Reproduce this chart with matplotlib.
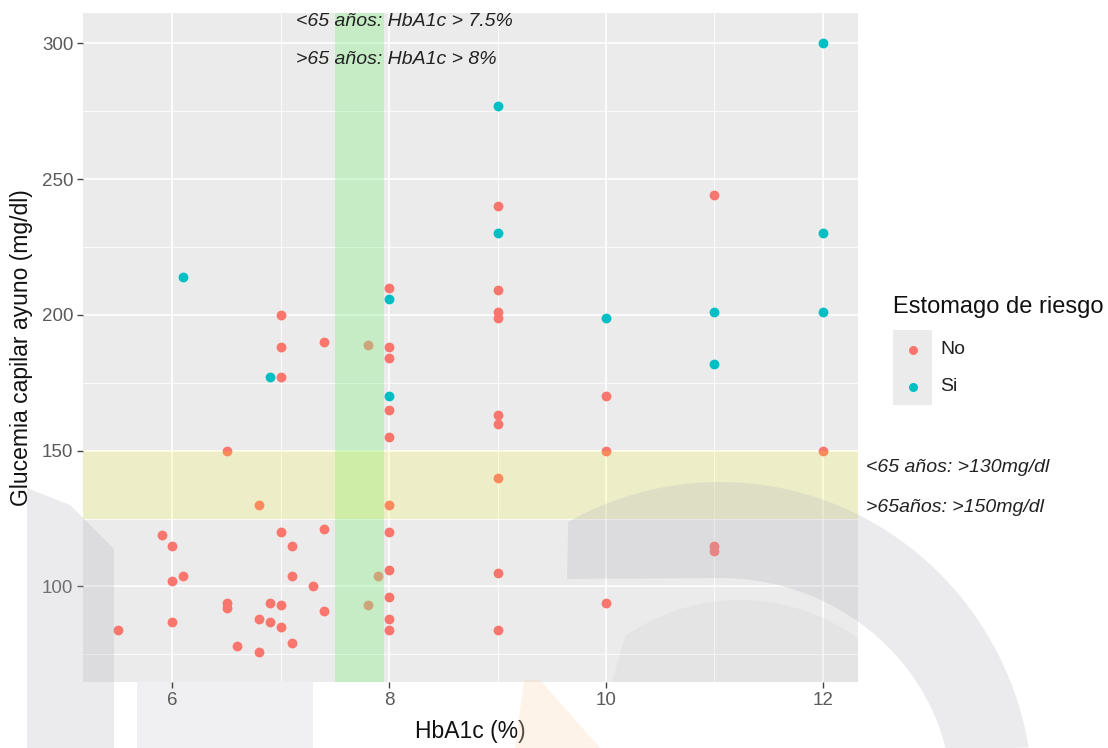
## plot.py
# Scatter of fasting capillary glucose vs HbA1c, coloured by "Estomago de riesgo",
# with the target bands for HbA1c (green) and glucose (yellow) in ggplot style

import numpy as np
import matplotlib.pyplot as plt
from matplotlib.patches import Polygon, Rectangle

## Data
# Group "No"
noHba1c = [5.5, 5.9, 6.0, 6.0, 6.0, 6.1, 6.5, 6.5, 6.5, 6.6,
           6.8, 6.8, 6.8, 6.9, 6.9, 7.0, 7.0, 7.0, 7.0, 7.0, 7.0,
           7.1, 7.1, 7.1, 7.3, 7.4, 7.4, 7.4, 7.8, 7.8, 7.9,
           8.0, 8.0, 8.0, 8.0, 8.0, 8.0, 8.0, 8.0, 8.0, 8.0, 8.0,
           9.0, 9.0, 9.0, 9.0, 9.0, 9.0, 9.0, 9.0, 9.0,
           10.0, 10.0, 10.0, 11.0, 11.0, 11.0, 12.0]
noGlucose = [84, 119, 115, 102, 87, 104, 150, 94, 92, 78,
             130, 88, 76, 94, 87, 200, 188, 177, 120, 93, 85,
             115, 104, 79, 100, 190, 121, 91, 189, 93, 104,
             210, 188, 184, 165, 155, 130, 120, 106, 96, 88, 84,
             240, 209, 201, 199, 163, 160, 140, 105, 84,
             170, 150, 94, 244, 115, 113, 150]

# Group "Si"
siHba1c = [6.1, 6.9, 8.0, 8.0, 9.0, 9.0, 10.0, 11.0, 11.0, 12.0, 12.0, 12.0]
siGlucose = [214, 177, 206, 170, 277, 230, 199, 201, 182, 300, 230, 201]

groupLabels = ["No", "Si"]
groupColors = ["#F8766D", "#00BFC4"]

# Target bands
hbBand = (7.5, 7.95)
gluBand = (125, 150)

xTicks = [6, 8, 10, 12]
yTicks = [100, 150, 200, 250, 300]

## Figure set-up
W, H = 1108, 748
plt.rcParams['font.family'] = ['Liberation Sans', 'DejaVu Sans']

def fx(px):
    return px / W

def fy(py):
    return 1 - py / H

fig = plt.figure(figsize=(W / 100, H / 100), dpi=100)
ax = fig.add_axes([fx(83), fy(682), fx(858) - fx(83), fy(13) - fy(682)])
ax.set_facecolor("#EBEBEB")

# Scales like ggplot (5% expansion)
xMin, xMax = min(noHba1c + siHba1c), max(noHba1c + siHba1c)
yMin, yMax = min(noGlucose + siGlucose), max(noGlucose + siGlucose)
xPad = 0.05 * (xMax - xMin)
yPad = 0.05 * (yMax - yMin)
ax.set_xlim(xMin - xPad, xMax + xPad)
ax.set_ylim(yMin - yPad, yMax + yPad)

# Grid: major and minor lines in white
ax.set_xticks(xTicks)
ax.set_yticks(yTicks)
ax.set_xticks([7, 9, 11], minor=True)
ax.set_yticks([75, 125, 175, 225, 275], minor=True)
ax.grid(which="major", color="white", linewidth=1.2, zorder=0)
ax.grid(which="minor", color="white", linewidth=0.6, zorder=0)
ax.set_axisbelow(True)
for s in ax.spines.values():
    s.set_visible(False)
ax.tick_params(which="major", length=4, width=1, color="#444444",
               labelsize=13.5, labelcolor="#5A5A5A", pad=3)
ax.tick_params(which="minor", length=0)

# Points
ax.scatter(noHba1c, noGlucose, s=50, color=groupColors[0], linewidths=0, zorder=2)
ax.scatter(siHba1c, siGlucose, s=50, color=groupColors[1], linewidths=0, zorder=2)

# Bands drawn on top of the points (as in the original)
ax.axvspan(hbBand[0], hbBand[1], color="lightgreen", alpha=0.4, lw=0, zorder=3)
ax.axhspan(gluBand[0], gluBand[1], color="yellow", alpha=0.15, lw=0, zorder=3)

# Annotations
ax.text(7.14, 308, "<65 años: HbA1c > 7.5%", style="italic", fontsize=14,
        color="#222222", ha="left", va="center", zorder=4, clip_on=False)
ax.text(7.14, 294, ">65 años: HbA1c > 8%", style="italic", fontsize=14,
        color="#222222", ha="left", va="center", zorder=4, clip_on=False)
fig.text(fx(866), fy(468), "<65 años: >130mg/dl", style="italic", fontsize=14,
         color="#222222", ha="left", va="center")
fig.text(fx(866), fy(507), ">65años: >150mg/dl", style="italic", fontsize=14,
         color="#222222", ha="left", va="center")

# Axis titles
ax.set_xlabel("HbA1c (%)", fontsize=16.5, color="#111111", labelpad=8)
ax.set_ylabel("Glucemia capilar ayuno (mg/dl)", fontsize=16.5, color="#111111",
              labelpad=6)

## Legend (ggplot style: grey key boxes)
fig.text(fx(893), fy(307), "Estomago de riesgo", fontsize=17, color="#111111",
         ha="left", va="center")
fig.add_artist(Rectangle((fx(893), fy(405)), fx(932) - fx(893), fy(330) - fy(405),
                         transform=fig.transFigure, facecolor="#EBEBEB",
                         edgecolor="none", zorder=1))
keyY = [350, 387]
for lab, col, ky in zip(groupLabels, groupColors, keyY):
    fig.add_artist(plt.Line2D([fx(913)], [fy(ky)], marker="o", markersize=6.5,
                              markerfacecolor=col, markeredgewidth=0,
                              linestyle="none", transform=fig.transFigure, zorder=2))
    fig.text(fx(940), fy(ky), lab, fontsize=14, color="#222222",
             ha="left", va="center")

## Faint watermark shapes on the page
def pxPoly(points, **kw):
    pts = [(fx(p[0]), fy(p[1])) for p in points]
    fig.add_artist(Polygon(pts, closed=True, transform=fig.transFigure,
                           edgecolor="none", **kw))

# Left strip (over the panel)
pxPoly([(27, 488), (70, 505), (114, 549), (114, 748), (27, 748)],
       facecolor="#B2B2BE", alpha=0.25, zorder=5)
# Lighter strip behind the axes (only visible below the panel)
pxPoly([(137, 520), (313, 520), (313, 748), (137, 748)],
       facecolor="#E6E6EA", alpha=0.6, zorder=-1)

# Big arc band on the right: elliptical outer edge, flat-bottomed inner edge
cx, cy = 720, 800
tOut = np.linspace(np.deg2rad(9.5), np.deg2rad(119), 90)
outer = [(cx + 313 * np.cos(t), cy - 318 * np.sin(t)) for t in tOut]
tIn = np.linspace(np.deg2rad(90), np.deg2rad(13), 60)
inner = [(cx + 232 * np.cos(t), cy - 222 * np.sin(t)) for t in tIn]
pxPoly(outer + [(567, 579), (cx, 578)] + inner,
       facecolor="#B2B2BE", alpha=0.25, zorder=5)

# Inner grey area in the lower right of the panel
tLow = np.linspace(np.deg2rad(30), np.deg2rad(125), 60)
lower = [(740 + 200 * np.cos(t), 800 - 200 * np.sin(t)) for t in tLow]
lower = [(min(x, 858), y) for x, y in lower if y <= 682]
pxPoly(lower + [(612, 682), (858, 682)],
       facecolor="#B2B2BE", alpha=0.12, zorder=5)

# Peach wedge at the bottom
pxPoly([(524, 680), (540, 680), (600, 748), (515, 748)],
       facecolor="#FAD9B8", alpha=0.3, zorder=5)

fig.savefig("out.png", dpi=100)
